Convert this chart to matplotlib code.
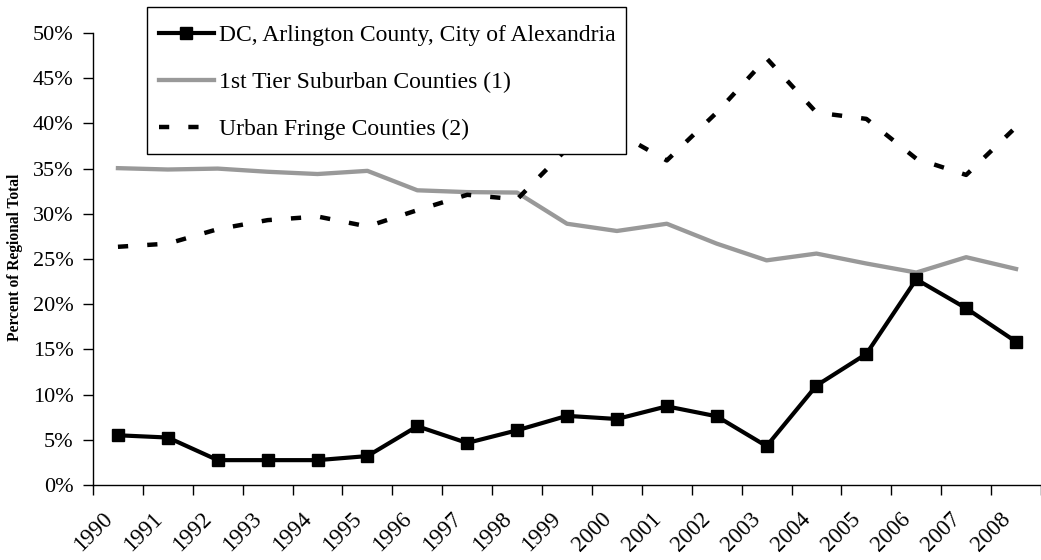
import matplotlib
matplotlib.use("Agg")
import matplotlib.pyplot as plt
from matplotlib.patches import Rectangle
from matplotlib.transforms import ScaledTranslation
from matplotlib.ticker import FixedLocator, PercentFormatter

years = ["1990", "1991", "1992", "1993", "1994", "1995", "1996", "1997", "1998", "1999",
         "2000", "2001", "2002", "2003", "2004", "2005", "2006", "2007", "2008"]
dc_core = [5.5, 5.25, 2.75, 2.75, 2.75, 3.2, 6.5, 4.65, 6.05, 7.65,
           7.3, 8.7, 7.6, 4.3, 11.0, 14.5, 22.75, 19.55, 15.85]
first_tier = [35.05, 34.9, 35.0, 34.65, 34.4, 34.75, 32.6, 32.4, 32.35, 28.9,
              28.1, 28.9, 26.7, 24.85, 25.6, 24.5, 23.5, 25.2, 23.9]
urban_fringe = [26.35, 26.7, 28.3, 29.3, 29.7, 28.6, 30.4, 32.1, 31.6, 37.2,
                39.0, 35.9, 41.2, 47.2, 41.2, 40.5, 36.1, 34.3, 39.6]
labels = ["DC, Arlington County, City of Alexandria",
          "1st Tier Suburban Counties (1)",
          "Urban Fringe Counties (2)"]

plt.rcParams['font.family'] = ['Liberation Serif', 'DejaVu Serif']

W, H, DPI = 1041, 560, 100
fig = plt.figure(figsize=(W / DPI, H / DPI), dpi=DPI)
ax = fig.add_axes([93 / W, (H - 485) / H, (W - 93) / W, (485 - 33) / H])

x = list(range(len(years)))
l1, = ax.plot(x, dc_core, color='black', lw=3.0, marker='s', markersize=8,
              solid_joinstyle='miter', zorder=3)
l2, = ax.plot(x, first_tier, color='#999999', lw=3.1, zorder=2)
l3, = ax.plot(x, urban_fringe, color='black', lw=3.2, zorder=2,
              dashes=(2.3, 4.3), dash_capstyle='butt')

ax.set_xlim(-0.5, 18.35)
ax.set_ylim(0, 50)
ax.yaxis.set_major_locator(FixedLocator(range(0, 51, 5)))
ax.yaxis.set_major_formatter(PercentFormatter(decimals=0))

ax.set_xticks(x)
ax.set_xticklabels(years)
ax.set_xticks([i - 0.5 for i in range(len(years) + 1)], minor=True)
ax.tick_params(axis='x', which='major', length=0, pad=22, labelsize=16.5)
ax.tick_params(axis='x', which='minor', length=7, width=1, direction='out')
ax.tick_params(axis='y', length=7, width=1, direction='out', pad=7, labelsize=16)
off = ScaledTranslation(-9 / DPI, 0, fig.dpi_scale_trans)
for lab in ax.get_xticklabels():
    lab.set_rotation(45)
    lab.set_ha('right')
    lab.set_va('center')
    lab.set_rotation_mode('anchor')
    lab.set_transform(lab.get_transform() + off)

for s in ['top', 'right']:
    ax.spines[s].set_visible(False)
for s in ['left', 'bottom']:
    ax.spines[s].set_linewidth(1)
    ax.spines[s].set_color('black')

fig.text(15 / W, 1 - 257 / H, "Percent of Regional Total", rotation=90,
         ha='center', va='center', fontsize=11.2, fontweight='bold')

# legend box (frame drawn separately to control padding)
box = Rectangle((147 / W, 1 - 154 / H), (626 - 147) / W, (154 - 7) / H,
                transform=fig.transFigure, facecolor='white', edgecolor='black',
                linewidth=1, zorder=4)
fig.add_artist(box)

leg = fig.legend([l1, l2, l3], labels, loc='upper left',
                 bbox_to_anchor=(147 / W, 1 - 13 / H), bbox_transform=fig.transFigure,
                 fontsize=17, frameon=False, handlelength=2.33,
                 handletextpad=0.2, labelspacing=1.07, borderpad=0.5,
                 borderaxespad=0)
leg.set_zorder(5)

fig.savefig("out.png", dpi=DPI)
